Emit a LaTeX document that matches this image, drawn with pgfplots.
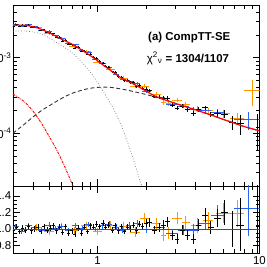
\documentclass[border=0pt]{standalone}
\usepackage{fontspec}
\setmainfont{Liberation Sans}
\usepackage{pgfplots}
\pgfplotsset{compat=1.18}
\usepackage{pgfplotstable}
\definecolor{dblue}{RGB}{40,100,240}
\definecolor{dorange}{RGB}{255,150,0}

\pgfplotstableread{
x y ex ey
0.300 2.65e-3 0.007 8e-5
0.314 2.75e-3 0.007 8e-5
0.328 2.62e-3 0.007 8e-5
0.342 2.73e-3 0.008 8e-5
0.358 2.65e-3 0.008 8e-5
0.374 2.72e-3 0.008 8e-5
0.391 2.55e-3 0.009 8e-5
0.408 2.55e-3 0.009 7e-5
0.427 2.52e-3 0.009 7e-5
0.446 2.32e-3 0.010 7e-5
0.466 2.37e-3 0.010 7e-5
0.487 2.19e-3 0.011 6e-5
0.509 2.13e-3 0.011 6e-5
0.532 2.10e-3 0.012 6e-5
0.556 1.89e-3 0.012 6e-5
0.581 1.87e-3 0.013 5e-5
0.607 1.67e-3 0.013 5e-5
0.634 1.72e-3 0.014 5e-5
0.663 1.51e-3 0.015 5e-5
0.693 1.49e-3 0.015 4.5e-5
0.724 1.35e-3 0.016 4e-5
0.756 1.37e-3 0.017 4e-5
0.790 1.22e-3 0.017 4e-5
0.826 1.23e-3 0.018 4e-5
0.863 1.11e-3 0.019 3.5e-5
0.902 1.11e-3 0.020 3.5e-5
0.943 1.02e-3 0.021 3.2e-5
0.985 9.86e-4 0.022 3e-5
1.03 8.96e-4 0.023 3e-5
1.08 8.56e-4 0.024 2.8e-5
1.12 7.75e-4 0.025 2.6e-5
1.17 7.46e-4 0.026 2.5e-5
1.23 6.53e-4 0.027 2.3e-5
1.28 6.45e-4 0.028 2.2e-5
1.34 5.68e-4 0.030 2.1e-5
1.40 5.56e-4 0.031 2e-5
1.46 5.04e-4 0.032 2e-5
1.53 5.05e-4 0.034 2e-5
1.60 4.70e-4 0.035 1.9e-5
1.67 4.73e-4 0.037 1.9e-5
1.74 4.21e-4 0.038 1.8e-5
1.82 4.29e-4 0.040 1.8e-5
1.90 3.97e-4 0.042 1.8e-5
1.99 3.87e-4 0.044 1.8e-5
2.10 3.67e-4 0.07 1.8e-5
2.25 3.10e-4 0.07 1.6e-5
2.40 3.02e-4 0.08 1.6e-5
2.55 2.93e-4 0.08 1.6e-5
2.70 2.94e-4 0.08 1.6e-5
2.90 2.36e-4 0.10 1.4e-5
3.10 2.16e-4 0.10 1.4e-5
3.35 2.30e-4 0.13 1.4e-5
3.60 2.06e-4 0.13 1.4e-5
3.90 1.84e-4 0.15 1.3e-5
4.20 2.08e-4 0.15 1.4e-5
4.60 2.18e-4 0.2 1.5e-5
5.00 1.79e-4 0.2 1.4e-5
5.50 1.84e-4 0.3 2e-5
6.10 1.80e-4 0.3 2.2e-5
6.80 1.39e-4 0.35 3e-5
7.60 1.34e-4 0.4 4e-5
9.70 1.20e-4 0.25 6e-5
}\blacktop

\pgfplotstableread{
x r ex er
0.300 0.98 0.007 0.035
0.314 1.02 0.007 0.035
0.328 0.97 0.007 0.035
0.342 1.01 0.008 0.035
0.358 0.99 0.008 0.035
0.374 1.03 0.008 0.035
0.391 0.98 0.009 0.035
0.408 1.00 0.009 0.035
0.427 1.02 0.009 0.035
0.446 0.97 0.010 0.035
0.466 1.03 0.010 0.035
0.487 0.99 0.011 0.035
0.509 1.01 0.011 0.035
0.532 1.04 0.012 0.035
0.556 0.98 0.012 0.035
0.581 1.02 0.013 0.035
0.607 0.96 0.013 0.035
0.634 1.03 0.014 0.035
0.663 0.95 0.015 0.035
0.693 0.98 0.015 0.035
0.724 0.94 0.016 0.035
0.756 1.01 0.017 0.035
0.790 0.95 0.017 0.035
0.826 1.02 0.018 0.035
0.863 0.97 0.019 0.035
0.902 1.04 0.020 0.035
0.943 1.02 0.021 0.035
0.985 1.06 0.022 0.035
1.03 1.03 0.023 0.035
1.08 1.07 0.024 0.035
1.12 1.02 0.025 0.035
1.17 1.05 0.026 0.035
1.23 0.99 0.027 0.035
1.28 1.04 0.028 0.035
1.34 0.98 0.030 0.035
1.40 1.03 0.031 0.035
1.46 0.97 0.032 0.035
1.53 1.02 0.034 0.035
1.60 1.00 0.035 0.04
1.67 1.05 0.037 0.04
1.74 0.98 0.038 0.04
1.82 1.06 0.040 0.04
1.90 1.03 0.042 0.045
1.99 1.07 0.044 0.045
2.10 1.08 0.07 0.05
2.25 0.99 0.07 0.05
2.40 1.02 0.08 0.055
2.55 1.05 0.08 0.055
2.70 1.09 0.08 0.06
2.90 0.92 0.10 0.055
3.10 0.88 0.10 0.06
3.35 0.99 0.13 0.06
3.60 0.93 0.13 0.065
3.90 0.88 0.15 0.065
4.20 1.05 0.15 0.07
4.60 1.17 0.2 0.08
5.00 1.02 0.2 0.08
5.50 1.13 0.3 0.11
6.10 1.20 0.3 0.15
6.80 1.00 0.35 0.22
7.60 1.05 0.4 0.32
9.70 1.03 0.25 0.55
}\blackrat

\pgfplotstableread{
x y ex ey
0.31 2.78e-3 0.015 8e-5
0.34 2.62e-3 0.016 8e-5
0.375 2.75e-3 0.018 8e-5
0.41 2.59e-3 0.02 7e-5
0.45 2.33e-3 0.022 7e-5
0.50 2.26e-3 0.024 6e-5
0.55 1.97e-3 0.026 6e-5
0.60 1.81e-3 0.028 5e-5
0.66 1.57e-3 0.031 5e-5
0.73 1.49e-3 0.034 4e-5
0.80 1.27e-3 0.037 4e-5
0.88 1.18e-3 0.041 3.5e-5
0.97 9.55e-4 0.045 3e-5
1.07 8.42e-4 0.05 2.8e-5
1.18 7.42e-4 0.055 2.5e-5
1.30 6.12e-4 0.06 2.2e-5
1.43 5.25e-4 0.065 2e-5
1.58 4.94e-4 0.075 2e-5
1.75 4.55e-4 0.09 1.9e-5
2.00 3.60e-4 0.13 1.7e-5
2.40 3.02e-4 0.2 1.5e-5
2.90 2.44e-4 0.25 1.4e-5
3.40 2.28e-4 0.28 1.4e-5
3.90 2.07e-4 0.3 1.4e-5
4.60 1.99e-4 0.4 1.6e-5
5.50 1.91e-4 0.5 2e-5
8.50 1.51e-4 1.5 4e-5
}\bluetop

\pgfplotstableread{
x r ex er
0.31 1.03 0.015 0.03
0.34 0.97 0.016 0.03
0.375 1.04 0.018 0.03
0.41 1.02 0.02 0.03
0.45 0.98 0.022 0.03
0.50 1.05 0.024 0.03
0.55 1.01 0.026 0.03
0.60 1.03 0.028 0.03
0.66 0.98 0.031 0.03
0.73 1.04 0.034 0.03
0.80 1.01 0.037 0.03
0.88 1.06 0.041 0.03
0.97 1.00 0.045 0.03
1.07 1.04 0.05 0.035
1.18 1.06 0.055 0.035
1.30 1.02 0.06 0.035
1.43 0.99 0.065 0.04
1.58 1.04 0.075 0.04
1.75 1.07 0.09 0.04
2.00 1.00 0.13 0.045
2.40 1.02 0.2 0.05
2.90 0.95 0.25 0.055
3.40 0.99 0.28 0.06
3.90 0.99 0.3 0.065
4.60 1.07 0.4 0.08
5.50 1.17 0.5 0.12
8.50 1.25 1.5 0.33
}\bluerat

\pgfplotstableread{
x y ex ey
0.42 2.55e-3 0.03 1e-4
0.50 2.09e-3 0.035 8e-5
0.60 1.81e-3 0.04 7e-5
0.72 1.42e-3 0.05 6e-5
0.85 1.21e-3 0.06 5e-5
1.00 8.83e-4 0.07 4e-5
1.20 7.14e-4 0.08 3.5e-5
1.45 5.36e-4 0.1 3e-5
1.70 4.22e-4 0.12 2.6e-5
1.95 4.20e-4 0.13 2.6e-5
2.30 3.30e-4 0.15 2.2e-5
2.55 2.59e-4 0.1 2e-5
2.75 2.53e-4 0.1 2e-5
3.10 2.77e-4 0.2 2e-5
3.50 2.43e-4 0.2 2e-5
4.10 2.10e-4 0.3 2e-5
4.80 1.99e-4 0.35 2e-5
6.00 1.81e-4 0.6 2.2e-5
7.30 1.57e-4 0.7 2.6e-5
9.00 3.70e-4 1.0 1.4e-4
}\orangetop

\pgfplotstableread{
x r ex er
0.42 1.02 0.03 0.04
0.50 0.97 0.035 0.04
0.60 1.03 0.04 0.04
0.72 0.98 0.05 0.04
0.85 1.04 0.06 0.04
1.00 0.97 0.07 0.045
1.20 1.05 0.08 0.05
1.45 1.03 0.1 0.055
1.70 0.96 0.12 0.06
1.95 1.13 0.13 0.06
2.30 1.07 0.15 0.065
2.55 0.93 0.1 0.07
2.75 0.95 0.1 0.07
3.10 1.13 0.2 0.07
3.50 1.08 0.2 0.08
4.10 1.04 0.3 0.09
4.80 1.10 0.35 0.1
6.00 1.19 0.6 0.12
7.30 1.19 0.7 0.16
}\orangerat

\pgfplotstableread{
x y
0.3 2.70e-3
0.35 2.70e-3
0.4 2.58e-3
0.45 2.38e-3
0.5 2.15e-3
0.55 1.95e-3
0.6 1.76e-3
0.7 1.50e-3
0.8 1.26e-3
0.9 1.07e-3
1.0 9.1e-4
1.1 7.8e-4
1.25 6.4e-4
1.4 5.4e-4
1.6 4.7e-4
1.8 4.1e-4
2.0 3.6e-4
2.2 3.2e-4
2.5 2.85e-4
3.0 2.5e-4
3.5 2.25e-4
4.0 2.05e-4
5.0 1.75e-4
6.0 1.52e-4
7.0 1.36e-4
8.0 1.23e-4
10 1.08e-4
}\total

\pgfplotstableread{
x y
0.3 2.25e-3
0.35 2.26e-3
0.4 2.2e-3
0.45 2.05e-3
0.5 1.85e-3
0.55 1.62e-3
0.6 1.45e-3
0.7 1.15e-3
0.8 8.7e-4
0.9 6.5e-4
1.0 4.7e-4
1.1 3.4e-4
1.2 2.5e-4
1.3 1.8e-4
1.4 1.25e-4
1.5 8.5e-5
1.6 5.8e-5
1.7 3.9e-5
1.8 2.6e-5
1.9 1.8e-5
2.0 1.2e-5
}\bbody

\pgfplotstableread{
x y
0.3 1.0e-4
0.35 1.3e-4
0.4 1.65e-4
0.45 2.0e-4
0.5 2.3e-4
0.6 2.9e-4
0.7 3.4e-4
0.85 3.85e-4
1.0 4.05e-4
1.2 4.05e-4
1.5 3.75e-4
2.0 3.25e-4
2.5 2.85e-4
3.0 2.5e-4
4.0 2.05e-4
5.0 1.75e-4
6.0 1.52e-4
7.0 1.36e-4
8.0 1.23e-4
10 1.07e-4
}\comptt

\pgfplotstableread{
x y
0.3 3.3e-4
0.35 2.65e-4
0.4 1.95e-4
0.45 1.35e-4
0.5 9.2e-5
0.55 6.4e-5
0.6 4.4e-5
0.65 3.0e-5
0.7 2.05e-5
0.75 1.4e-5
}\soft

\pgfplotsset{
  every axis/.append style={
    scale only axis,
    xmode=log,
    xmin=0.3, xmax=10,
    width=246.5bp,
    tick align=inside,
    major tick length=7bp,
    minor tick length=4bp,
    every tick/.style={black, line width=0.6pt},
    axis line style={line width=0.8pt},
    tick label style={font=\fontsize{11.5}{12}\selectfont},
    xtick={1,10},
    minor xtick={0.3,0.4,0.5,0.6,0.7,0.8,0.9,2,3,4,5,6,7,8,9},
    clip=true,
  },
  errb/.style={mark=none, draw=none,
    error bars/x dir=both, error bars/x explicit,
    error bars/y dir=both, error bars/y explicit,
    error bars/error mark=none,
    error bars/error bar style={draw=#1, solid, line width=0.6pt}},
}

\begin{document}
\begin{tikzpicture}
\begin{axis}[
  at={(13bp,81bp)}, anchor=south west,
  height=181bp,
  ymode=log, ymin=2e-5, ymax=5e-3,
  xticklabels={},
  ytick={1e-4,1e-3},
  yticklabels={10\textsuperscript{-4},10\textsuperscript{-3}},
  minor ytick={2e-5,3e-5,4e-5,5e-5,6e-5,7e-5,8e-5,9e-5,2e-4,3e-4,4e-4,5e-4,6e-4,7e-4,8e-4,9e-4,2e-3,3e-3,4e-3,5e-3},
  yticklabel style={inner sep=1.5pt},
]
\addplot[errb=dorange] table[x=x, y=y, x error=ex, y error=ey]{\orangetop};
\addplot[errb=dblue] table[x=x, y=y, x error=ex, y error=ey]{\bluetop};
\addplot[errb=black] table[x=x, y=y, x error=ex, y error=ey]{\blacktop};
\addplot[black!55, dotted, line width=0.7pt, smooth] table[x=x, y=y]{\bbody};
\addplot[black!80, dash pattern=on 4pt off 2.5pt, line width=0.9pt, smooth] table[x=x, y=y]{\comptt};
\addplot[red, dash pattern=on 2.5pt off 1pt on 0.8pt off 1pt, line width=0.9pt, smooth] table[x=x, y=y]{\soft};
\addplot[red, line width=1.2pt, smooth] table[x=x, y=y]{\total};
\node[font=\fontsize{11.5}{13}\selectfont\bfseries] at (axis description cs:0.715,0.82) {(a) CompTT-SE};
\node[font=\fontsize{11.5}{13}\selectfont] at (axis description cs:0.71,0.705) {χ\textsuperscript{2}\textsubscript{ν} \textbf{= 1304/1107}};
\end{axis}

\begin{axis}[
  at={(13bp,14bp)}, anchor=south west,
  height=67bp,
  ymin=0.71, ymax=1.52,
  xticklabels={1,10},
  ytick={0.8,1.0,1.2,1.4},
  yticklabels={0.8,1.0,1.2,1.4},
  minor y tick num=3,
  yticklabel style={inner sep=1.5pt},
]
\addplot[errb=dorange] table[x=x, y=r, x error=ex, y error=er]{\orangerat};
\addplot[errb=dblue] table[x=x, y=r, x error=ex, y error=er]{\bluerat};
\addplot[errb=black] table[x=x, y=r, x error=ex, y error=er]{\blackrat};
\addplot[red, line width=1pt] coordinates {(0.3,1) (10,1)};
\end{axis}
\pgfresetboundingbox
\useasboundingbox (0,0) rectangle (267bp,267bp);
\end{tikzpicture}
\end{document}
